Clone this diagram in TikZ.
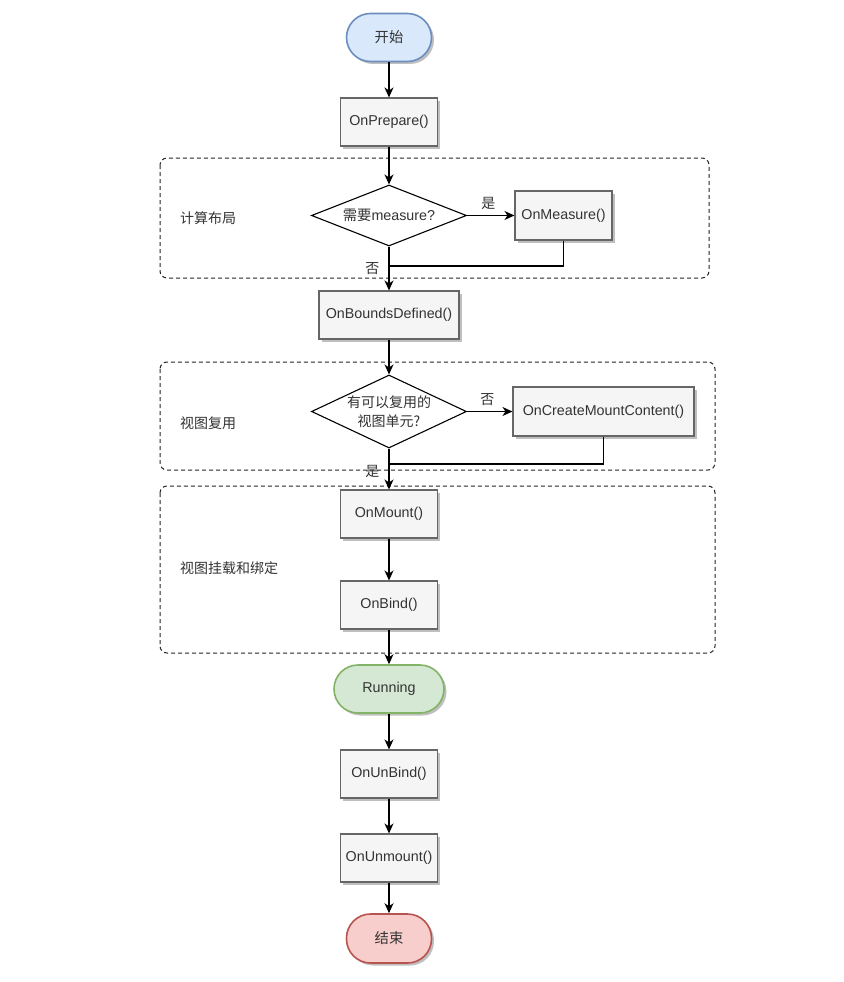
\documentclass[tikz,border=0pt]{standalone}
\usepackage{fontspec}
\setmainfont{Liberation Sans}
\newfontfamily\cjk{Noto Sans CJK SC}
\usetikzlibrary{shapes.geometric,shadows,arrows.meta}
\definecolor{txtc}{HTML}{333333}
\definecolor{boxfill}{HTML}{F5F5F5}
\definecolor{boxline}{HTML}{666666}
\definecolor{bluefill}{HTML}{DAE8FC}
\definecolor{blueline}{HTML}{6C8EBF}
\definecolor{greenfill}{HTML}{D5E8D4}
\definecolor{greenline}{HTML}{82B366}
\definecolor{redfill}{HTML}{F8CECC}
\definecolor{redline}{HTML}{B85450}
\begin{document}
\begin{tikzpicture}[x=1pt,y=-1pt,
  font=\fontsize{14.3}{18}\selectfont, text=txtc,
  every node/.style={inner sep=0pt},
  shad/.style={drop shadow={shadow xshift=2.5pt,shadow yshift=-2.5pt,fill=black,opacity=0.25}},
  box/.style={draw=boxline, fill=boxfill, line width=1.1pt, minimum width=97pt, minimum height=48pt, shad},
  term/.style={line width=1.6pt, minimum width=85pt, minimum height=48pt, rounded corners=24pt, shad},
  decision/.style={diamond, draw=black, fill=white, line width=1.1pt, minimum width=155pt, minimum height=61pt},
  grp/.style={draw=black!85, line width=1pt, dash pattern=on 4pt off 3pt, rounded corners=7pt},
  arr/.style={draw=black, line width=1.2pt, -{Stealth[length=10pt,width=9pt,inset=3pt]}},
  lnk/.style={draw=black, line width=1.2pt},
  glabel/.style={anchor=west, font=\cjk\fontsize{14}{17}\selectfont},
  ylabel/.style={font=\cjk\fontsize{14}{17}\selectfont}
]
\useasboundingbox (0,0) rectangle (843,982);
\fill[white] (0,0) rectangle (843,982);

% groups
\draw[grp] (160,158) rectangle (709,278);
\draw[grp] (160,362) rectangle (715,470);
\draw[grp] (160,486) rectangle (715,653);
\node[glabel] (g1) at (180,218) {计算布局};
\node[glabel] (g2) at (180,423) {视图复用};
\node[glabel] (g3) at (180,568) {视图挂载和绑定};

% nodes
\node[term, draw=blueline, fill=bluefill] (start) at (389,37.5) {\cjk 开始};
\node[box] (prep) at (389,122) {OnPrepare()};
\node[decision] (d1) at (389,215.5) {};
\node (d1t) at (d1.center) {{\cjk 需要}measure?};
\node[box, minimum height=49pt] (meas) at (563.5,215.5) {OnMeasure()};
\node[box, minimum width=140pt] (bounds) at (389,315) {OnBoundsDefined()};
\node[decision, minimum height=73pt] (d2) at (389,411.5) {};
\node[align=center, font=\cjk\fontsize{14}{19}\selectfont] (d2t) at (d2.center) {有可以复用的\\视图单元?};
\node[box, minimum width=181pt, minimum height=49pt] (create) at (603.5,411.5) {OnCreateMountContent()};
\node[box] (mount) at (389,514) {OnMount()};
\node[box] (bind) at (389,605) {OnBind()};
\node[term, draw=greenline, fill=greenfill, minimum width=110pt] (run) at (389,689) {Running};
\node[box] (unbind) at (389,774) {OnUnBind()};
\node[box] (unmount) at (389,858) {OnUnmount()};
\node[term, draw=redline, fill=redfill, minimum height=49pt] (end) at (389,938.5) {\cjk 结束};

\coordinate (j1) at (389,266);
\coordinate (j2) at (389,464);

% connectors
\draw[arr] (start) -- (prep);
\draw[arr] (prep) -- (d1);
\draw[arr] (d1.east) -- node[ylabel, above=5pt, pos=0.45] {是} (meas.west);
\draw[arr] (d1.south) -- node[ylabel, left=9pt, pos=0.5] {否} (bounds.north);
\draw[lnk] (meas.south) |- (j1);
\draw[arr] (bounds) -- (d2);
\draw[arr] (d2.east) -- node[ylabel, above=5pt, pos=0.45] {否} (create.west);
\draw[arr] (d2.south) -- node[ylabel, left=9pt, pos=0.57] {是} (mount.north);
\draw[lnk] (create.south) |- (j2);
\draw[arr] (mount) -- (bind);
\draw[arr] (bind) -- (run);
\draw[arr] (run) -- (unbind);
\draw[arr] (unbind) -- (unmount);
\draw[arr] (unmount) -- (end);
\end{tikzpicture}
\end{document}
